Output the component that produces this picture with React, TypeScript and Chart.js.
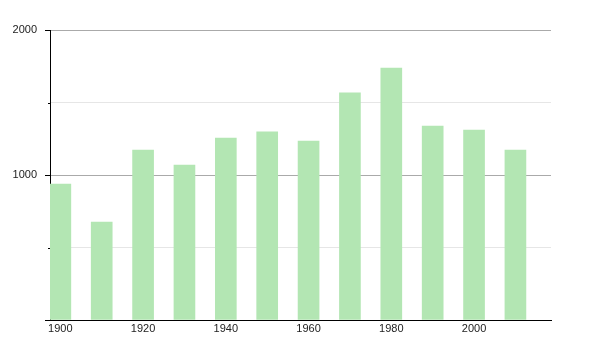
import React, { useEffect, useRef } from "react";
import { Chart, registerables } from "chart.js";

Chart.register(...registerables);

const years = [1900, 1910, 1920, 1930, 1940, 1950, 1960, 1970, 1980, 1990, 2000, 2010];
const population = [938, 676, 1172, 1069, 1255, 1297, 1234, 1566, 1738, 1338, 1310, 1172];
const xTickYears = [1900, 1920, 1940, 1960, 1980, 2000];
const yLabelValues = [1000, 2000];

const tickMarks = {
  id: "tickMarks",
  afterDraw(chart: any) {
    const y = chart.scales.y;
    const ctx = chart.ctx;
    ctx.save();
    ctx.strokeStyle = "#000";
    ctx.lineWidth = 1;
    for (const t of y.ticks) {
      const py = Math.round(y.getPixelForValue(t.value)) + 0.5;
      const len = yLabelValues.includes(t.value) || t.value === 0 ? 5 : 2;
      ctx.beginPath();
      ctx.moveTo(y.right - len, py);
      ctx.lineTo(y.right, py);
      ctx.stroke();
    }
    ctx.restore();
  },
};

export default function App() {
  const ref = useRef<HTMLCanvasElement>(null);
  useEffect(() => {
    const chart = new Chart(ref.current!, {
      type: "bar",
      data: {
        datasets: [
          {
            data: years.map((yr, i) => ({ x: yr, y: population[i] })),
            backgroundColor: "#b3e6b3",
            borderWidth: 0,
            barThickness: 21,
          },
        ],
      },
      options: {
        animation: false,
        responsive: true,
        maintainAspectRatio: false,
        layout: { padding: { top: 30, right: 49, left: 0, bottom: 0 } },
        plugins: { legend: { display: false }, tooltip: { enabled: false } },
        scales: {
          x: {
            type: "linear",
            offset: false,
            min: 1897.5,
            max: 2018.6,
            afterBuildTicks: (s: any) => {
              s.ticks = xTickYears.map((v) => ({ value: v }));
            },
            afterFit: (s: any) => {
              s.height = 30;
            },
            grid: { display: false, drawTicks: false, offset: false },
            border: { display: true, color: "#000", width: 1 },
            ticks: {
              padding: 2,
              color: "#222",
              font: { family: "Liberation Sans", size: 11 },
              callback: (v: any) => String(v),
              maxRotation: 0,
              autoSkip: false,
            },
          },
          y: {
            min: 0,
            max: 2000,
            afterFit: (s: any) => {
              s.width = 50;
            },
            grid: {
              drawTicks: false,
              color: (c: any) =>
                c.tick && c.tick.value % 1000 === 0 ? "#aaaaaa" : "#e6e6e6",
            },
            border: { display: true, color: "#000", width: 1 },
            ticks: {
              stepSize: 500,
              padding: 13,
              color: "#222",
              font: { family: "Liberation Sans", size: 11 },
              callback: (v: any) => (yLabelValues.includes(v) ? String(v) : ""),
            },
          },
        },
      },
      plugins: [tickMarks],
    });
    return () => chart.destroy();
  }, []);
  return (
    <div style={{ position: "fixed", left: 0, top: 0, width: 600, height: 350, background: "#fff" }}>
      <canvas ref={ref} />
    </div>
  );
}
